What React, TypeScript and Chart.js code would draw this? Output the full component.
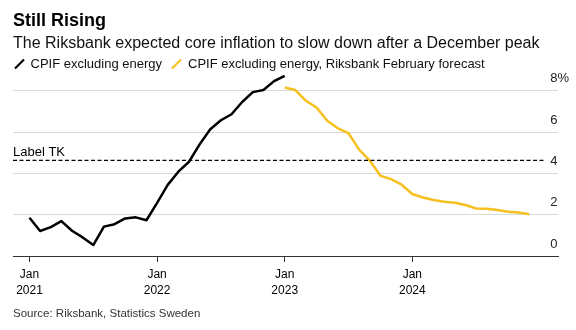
import React, { useEffect, useRef } from 'react';
import { Chart, registerables } from 'chart.js';

Chart.register(...registerables);

const FONT = '"Liberation Sans", Arial, Helvetica, sans-serif';

const actualMonths = [
  '2021-01', '2021-02', '2021-03', '2021-04', '2021-05', '2021-06', '2021-07', '2021-08', '2021-09', '2021-10', '2021-11', '2021-12',
  '2022-01', '2022-02', '2022-03', '2022-04', '2022-05', '2022-06', '2022-07', '2022-08', '2022-09', '2022-10', '2022-11', '2022-12',
  '2023-01',
];
const actualValues = [
  1.85, 1.21, 1.40, 1.69, 1.22, 0.90, 0.53, 1.42, 1.54, 1.82, 1.87, 1.73,
  2.57, 3.44, 4.08, 4.56, 5.40, 6.13, 6.57, 6.86, 7.45, 7.93, 8.03, 8.46,
  8.72,
];

const forecastMonths = [
  '2023-01', '2023-02', '2023-03', '2023-04', '2023-05', '2023-06', '2023-07', '2023-08', '2023-09', '2023-10', '2023-11', '2023-12',
  '2024-01', '2024-02', '2024-03', '2024-04', '2024-05', '2024-06', '2024-07', '2024-08', '2024-09', '2024-10', '2024-11', '2024-12',
];
const forecastValues = [
  8.15, 8.03, 7.51, 7.18, 6.54, 6.18, 5.94, 5.15, 4.62, 3.88, 3.72, 3.45,
  3.00, 2.83, 2.71, 2.63, 2.58, 2.47, 2.30, 2.29, 2.23, 2.14, 2.10, 2.02,
];

const yTicks = [0, 2, 4, 6, 8];
const yTickLabels = ['0', '2', '4', '6', '8%'];
const xTickMonths = ['2021-01', '2022-01', '2023-01', '2024-01'];
const xTickLabels = [['Jan', '2021'], ['Jan', '2022'], ['Jan', '2023'], ['Jan', '2024']];

// axis extent in months since Jan 2021
const xMin = -1.55;
const xMax = 49.7;
const yMin = 0;
const yMax = 9;

const thresholdValue = 4.63;
const thresholdFrom = -1.55;
const thresholdTo = 48.45;
const thresholdLabel = 'Label TK';

const seriesNames = ['CPIF excluding energy', 'CPIF excluding energy, Riksbank February forecast'];
const colors = ['#000000', '#f6c01f'];

function monthIndex(m: string): number {
  const [y, mo] = m.split('-').map(Number);
  return (y - 2021) * 12 + (mo - 1);
}

const labelPlugin = {
  id: 'thresholdLabel',
  afterDatasetsDraw(chart: any) {
    const { ctx, chartArea, scales } = chart;
    const y = scales.y.getPixelForValue(thresholdValue);
    ctx.save();
    ctx.font = `13px ${FONT}`;
    ctx.fillStyle = '#000';
    ctx.textAlign = 'left';
    ctx.textBaseline = 'alphabetic';
    ctx.fillText(thresholdLabel, chartArea.left, y - 4);
    ctx.restore();
  },
};

export default function App() {
  const ref = useRef<HTMLCanvasElement | null>(null);

  useEffect(() => {
    if (!ref.current) return;
    const chart = new Chart(ref.current, {
      type: 'line',
      data: {
        datasets: [
          {
            label: 'threshold',
            data: [
              { x: thresholdFrom, y: thresholdValue },
              { x: thresholdTo, y: thresholdValue },
            ],
            borderColor: '#000',
            borderWidth: 1.3,
            borderDash: [4, 2.5],
            pointRadius: 0,
          },
          {
            label: seriesNames[1],
            data: forecastMonths.map((m, i) => ({ x: monthIndex(m), y: forecastValues[i] })),
            borderColor: colors[1],
            borderWidth: 2.5,
            pointRadius: 0,
            tension: 0,
            borderJoinStyle: 'round',
          },
          {
            label: seriesNames[0],
            data: actualMonths.map((m, i) => ({ x: monthIndex(m), y: actualValues[i] })),
            borderColor: colors[0],
            borderWidth: 2.5,
            pointRadius: 0,
            tension: 0,
            borderJoinStyle: 'round',
          },
        ],
      },
      options: {
        responsive: false,
        animation: false,
        devicePixelRatio: 1,
        layout: { padding: { left: 13, right: 0, top: 70, bottom: 24 } },
        plugins: {
          legend: { display: false },
          title: { display: false },
          tooltip: { enabled: false },
        },
        scales: {
          x: {
            type: 'linear',
            min: xMin,
            max: xMax,
            afterBuildTicks: (s: any) => {
              s.ticks = xTickMonths.map((m) => ({ value: monthIndex(m) }));
            },
            afterFit: (s: any) => {
              s.height = 50;
            },
            grid: { drawOnChartArea: false, drawTicks: true, tickLength: 6, color: '#333', lineWidth: 1 },
            border: { display: true, color: '#333', width: 1 },
            ticks: {
              padding: 5,
              maxRotation: 0,
              autoSkip: false,
              color: '#000',
              font: { family: FONT, size: 12, lineHeight: 16 / 12 },
              callback: (_v: any, i: number) => xTickLabels[i],
            },
          },
          y: {
            position: 'right',
            min: yMin,
            max: yMax,
            afterBuildTicks: (s: any) => {
              s.ticks = yTicks.map((v) => ({ value: v }));
            },
            afterFit: (s: any) => {
              s.width = 18;
            },
            grid: {
              drawTicks: false,
              lineWidth: 1,
              color: (c: any) => (c.tick && c.tick.value === 0 ? 'rgba(0,0,0,0)' : '#d9d9d9'),
            },
            border: { display: false },
            ticks: {
              mirror: true,
              crossAlign: 'far',
              padding: 11,
              labelOffset: -12,
              color: '#222',
              font: { family: FONT, size: 13 },
              callback: (_v: any, i: number) => yTickLabels[i],
            },
          },
        },
      },
      plugins: [labelPlugin],
    } as any);
    return () => chart.destroy();
  }, []);

  const abs = (style: React.CSSProperties): React.CSSProperties => ({ position: 'absolute', whiteSpace: 'nowrap', ...style });

  return (
    <div style={{ position: 'fixed', left: 0, top: 0, width: 576, height: 330, background: '#fff', fontFamily: FONT }}>
      <canvas ref={ref} width={576} height={330} style={{ position: 'absolute', left: 0, top: 0, display: 'block' }} />
      <div style={abs({ left: 13, top: 9, fontSize: 18, lineHeight: '22px', fontWeight: 'bold', color: '#000' })}>Still Rising</div>
      <div style={abs({ left: 13, top: 33, fontSize: 16, lineHeight: '20px', color: '#111' })}>
        The Riksbank expected core inflation to slow down after a December peak
      </div>
      <svg width={12} height={12} style={{ position: 'absolute', left: 14, top: 58 }}>
        <line x1={1} y1={10.5} x2={10} y2={1.5} stroke={colors[0]} strokeWidth={2.2} />
      </svg>
      <div style={abs({ left: 30.5, top: 56, fontSize: 13, lineHeight: '16px', color: '#111' })}>{seriesNames[0]}</div>
      <svg width={12} height={12} style={{ position: 'absolute', left: 171, top: 58 }}>
        <line x1={1} y1={10.5} x2={10} y2={1.5} stroke={colors[1]} strokeWidth={2.2} />
      </svg>
      <div style={abs({ left: 188, top: 56, fontSize: 13, lineHeight: '16px', color: '#111' })}>{seriesNames[1]}</div>
      <div style={abs({ left: 13, top: 306, fontSize: 11.5, lineHeight: '14px', color: '#333' })}>
        Source: Riksbank, Statistics Sweden
      </div>
    </div>
  );
}
